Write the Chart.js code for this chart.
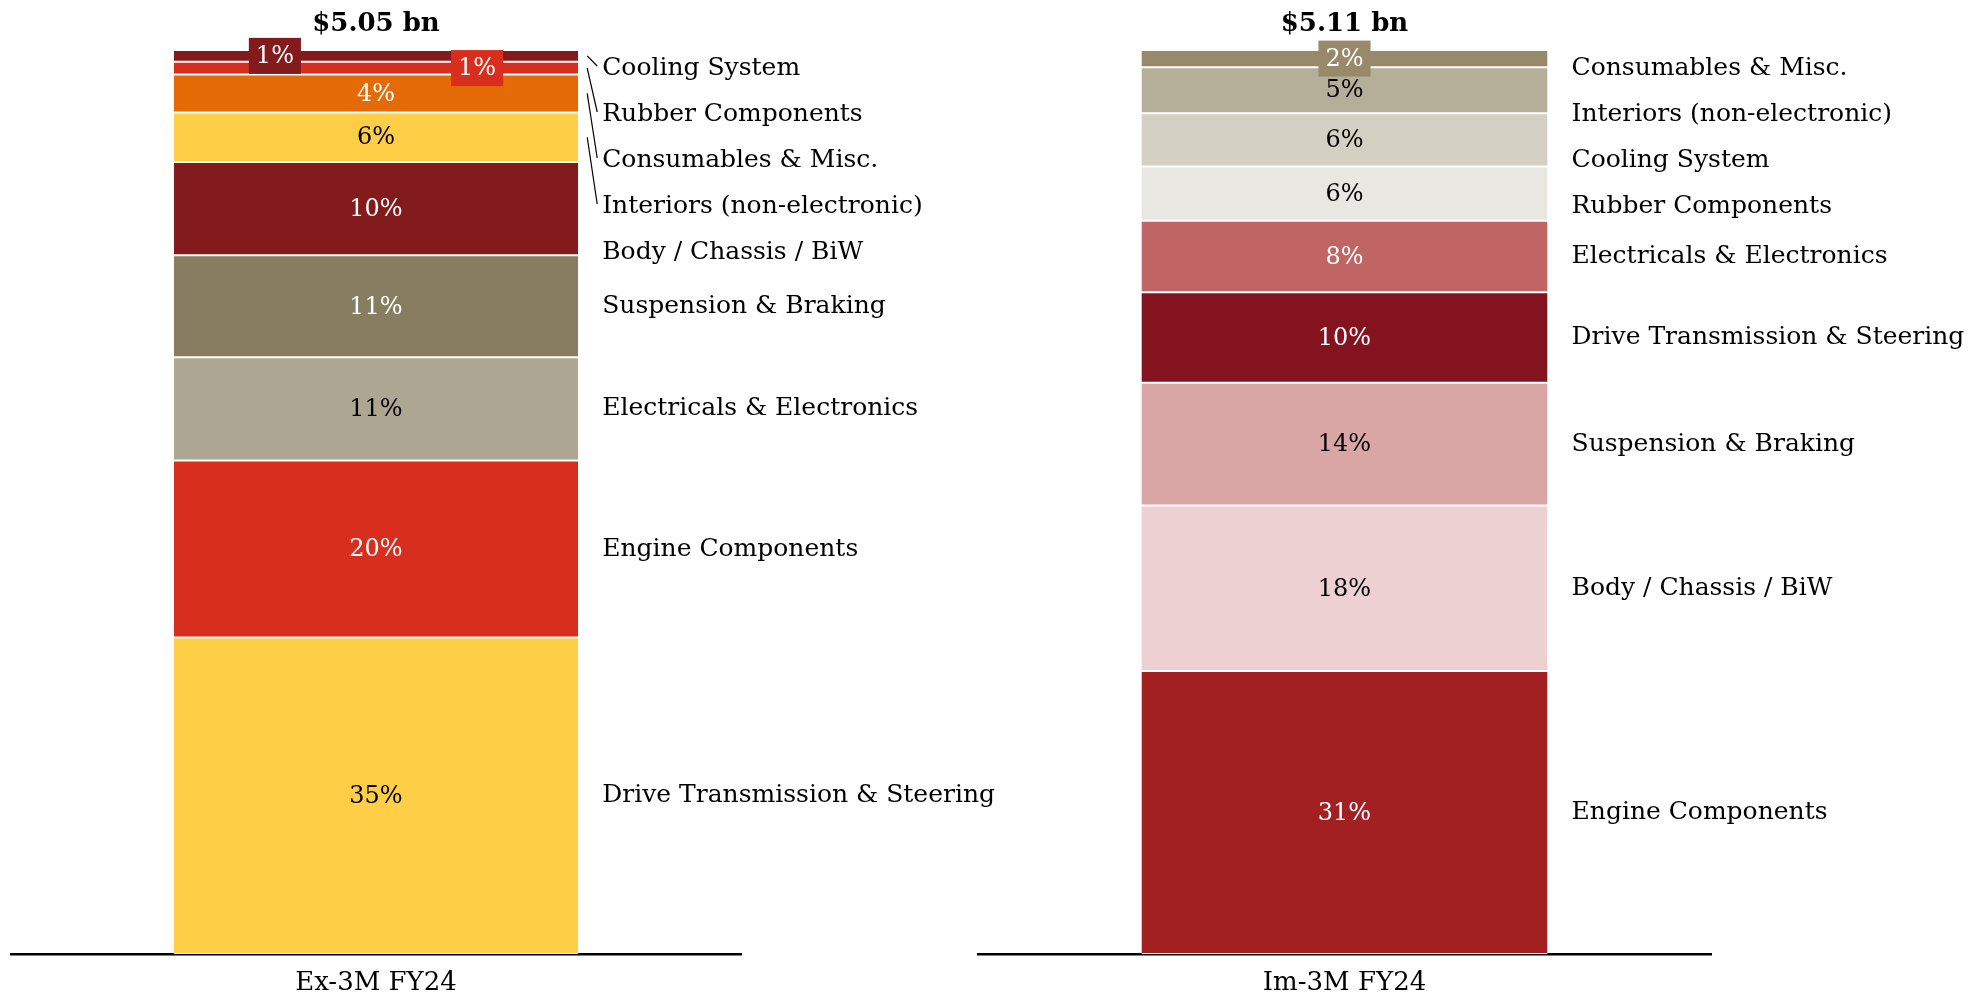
<!DOCTYPE html>
<html>
<head>
<meta charset="utf-8">
<script src="https://cdn.jsdelivr.net/npm/chart.js@4.4.1/dist/chart.umd.min.js"></script>
<style>
    html, body { margin: 0; padding: 0; background: #fff; }
    #wrap { position: relative; width: 1976px; height: 1001px; }
    #wrap canvas { position: absolute; left: 0; top: 0; }
</style>
</head>
<body>
<div id="wrap">
    <canvas id="chart_ex" width="1976" height="1001"></canvas>
    <canvas id="chart_im" width="1976" height="1001"></canvas>
</div>
<script>
// segments listed bottom to top, shares in % of the bar
var exSegments = ['Drive Transmission & Steering', 'Engine Components', 'Electricals & Electronics',
                  'Suspension & Braking', 'Body / Chassis / BiW', 'Interiors (non-electronic)',
                  'Consumables & Misc.', 'Rubber Components', 'Cooling System'];
var exShares = [35.0, 19.6, 11.4, 11.3, 10.3, 5.5, 4.2, 1.4, 1.3];
var exTotal = '$5.05 bn';
var exCategory = 'Ex-3M FY24';

var imSegments = ['Engine Components', 'Body / Chassis / BiW', 'Suspension & Braking',
                  'Drive Transmission & Steering', 'Electricals & Electronics', 'Rubber Components',
                  'Cooling System', 'Interiors (non-electronic)', 'Consumables & Misc.'];
var imShares = [31.3, 18.3, 13.6, 10.0, 7.9, 6.0, 5.9, 5.1, 1.9];
var imTotal = '$5.11 bn';
var imCategory = 'Im-3M FY24';

var exColors = ['#FFCE47', '#D72E1E', '#ADA692', '#877E61', '#831A1C', '#FFCE47', '#E36A05', '#D72E1E', '#831A1C'];
var imColors = ['#A21F22', '#EDD1D2', '#D9A5A5', '#83141F', '#C06464', '#E8E7E1', '#D4D0C3', '#B5AE98', '#98896B'];

var FONT = '"DejaVu Serif", Georgia, serif';

function isDark(hex) {
    var r = parseInt(hex.substr(1, 2), 16), g = parseInt(hex.substr(3, 2), 16), b = parseInt(hex.substr(5, 2), 16);
    return (0.299 * r + 0.587 * g + 0.114 * b) < 150;
}

function segmentLabels(opts) {
    return {
        id: 'segmentLabels',
        afterDatasetsDraw: function (chart) {
            var ctx = chart.ctx;
            var area = chart.chartArea;
            var ds = chart.data.datasets;
            var n = ds.length;
            var bars = [];
            for (var i = 0; i < n; i++) { bars.push(chart.getDatasetMeta(i).data[0]); }
            var cx = bars[0].x, half = bars[0].width / 2;
            var right = cx + half;

            ctx.save();
            ctx.textAlign = 'center';
            ctx.textBaseline = 'middle';
            ctx.font = '24px ' + FONT;

            // small segments get a boxed label, spread across the bar when there are several
            var small = [];
            for (i = n - 1; i >= 0; i--) { if (ds[i].data[0] < 3) small.push(i); }

            for (i = 0; i < n; i++) {
                var bar = bars[i];
                var mid = (bar.y + bar.base) / 2;
                var val = ds[i].data[0];
                var txt = Math.round(val) + '%';
                var col = ds[i].backgroundColor;
                var tx = cx;
                var k = small.indexOf(i);
                if (k >= 0) {
                    if (small.length > 1) { tx = cx + (k % 2 === 0 ? -1 : 1) * half * 0.5; }
                    var w = ctx.measureText(txt).width + 14;
                    ctx.fillStyle = col;
                    ctx.fillRect(tx - w / 2, mid - 18, w, 36);
                }
                ctx.fillStyle = isDark(col) ? '#fff' : '#000';
                ctx.fillText(txt, tx, mid + 1);
            }

            // names on the right, pushed down so they do not collide
            ctx.textAlign = 'left';
            ctx.font = '25px ' + FONT;
            ctx.fillStyle = '#000';
            ctx.strokeStyle = '#000';
            ctx.lineWidth = 1.2;
            var prev = area.top + 18 - 46;
            for (i = n - 1; i >= 0; i--) {
                var b = bars[i];
                var c = (b.y + b.base) / 2;
                var y = Math.max(c, prev + 46);
                prev = y;
                ctx.fillText(chart.data.datasets[i].label, right + 24, y);
                if (opts.leaders && ds[i].data[0] < 8) {
                    ctx.beginPath();
                    ctx.moveTo(right + 9, c);
                    ctx.lineTo(right + 19, y - 2);
                    ctx.stroke();
                }
            }

            // total on top, category under the axis
            ctx.textAlign = 'center';
            ctx.font = 'bold 26px ' + FONT;
            ctx.fillText(opts.total, cx, area.top - 26);
            ctx.font = '26px ' + FONT;
            ctx.fillText(opts.category, cx, area.bottom + 29);
            ctx.restore();
        }
    };
}

function makeChart(id, segments, shares, colors, total, category, pad, leaders) {
    var datasets = segments.map(function (name, i) {
        return {
            label: name,
            data: [shares[i]],
            backgroundColor: colors[i],
            borderColor: '#ffffff',
            borderWidth: { top: 1, bottom: 1, left: 0, right: 0 },
            borderSkipped: false,
            barPercentage: 0.554,
            categoryPercentage: 1
        };
    });
    return new Chart(document.getElementById(id).getContext('2d'), {
        type: 'bar',
        data: { labels: [category], datasets: datasets },
        options: {
            responsive: false,
            animation: false,
            devicePixelRatio: 1,
            layout: { padding: pad },
            plugins: { legend: { display: false }, tooltip: { enabled: false } },
            scales: {
                x: {
                    stacked: true,
                    grid: { display: false },
                    ticks: { display: false, padding: 0 },
                    border: { display: true, color: '#000', width: 2.5 }
                },
                y: { stacked: true, display: false, min: 0, max: 100 }
            }
        },
        plugins: [segmentLabels({ total: total, category: category, leaders: leaders })]
    });
}

makeChart('chart_ex', exSegments, exShares, exColors, exTotal, exCategory,
          { left: 11, right: 1976 - 741, top: 50, bottom: 1001 - 954 - 8 }, true);
makeChart('chart_im', imSegments, imShares, imColors, imTotal, imCategory,
          { left: 978, right: 1976 - 1711, top: 50, bottom: 1001 - 954 - 8 }, false);
</script>
</body>
</html>
